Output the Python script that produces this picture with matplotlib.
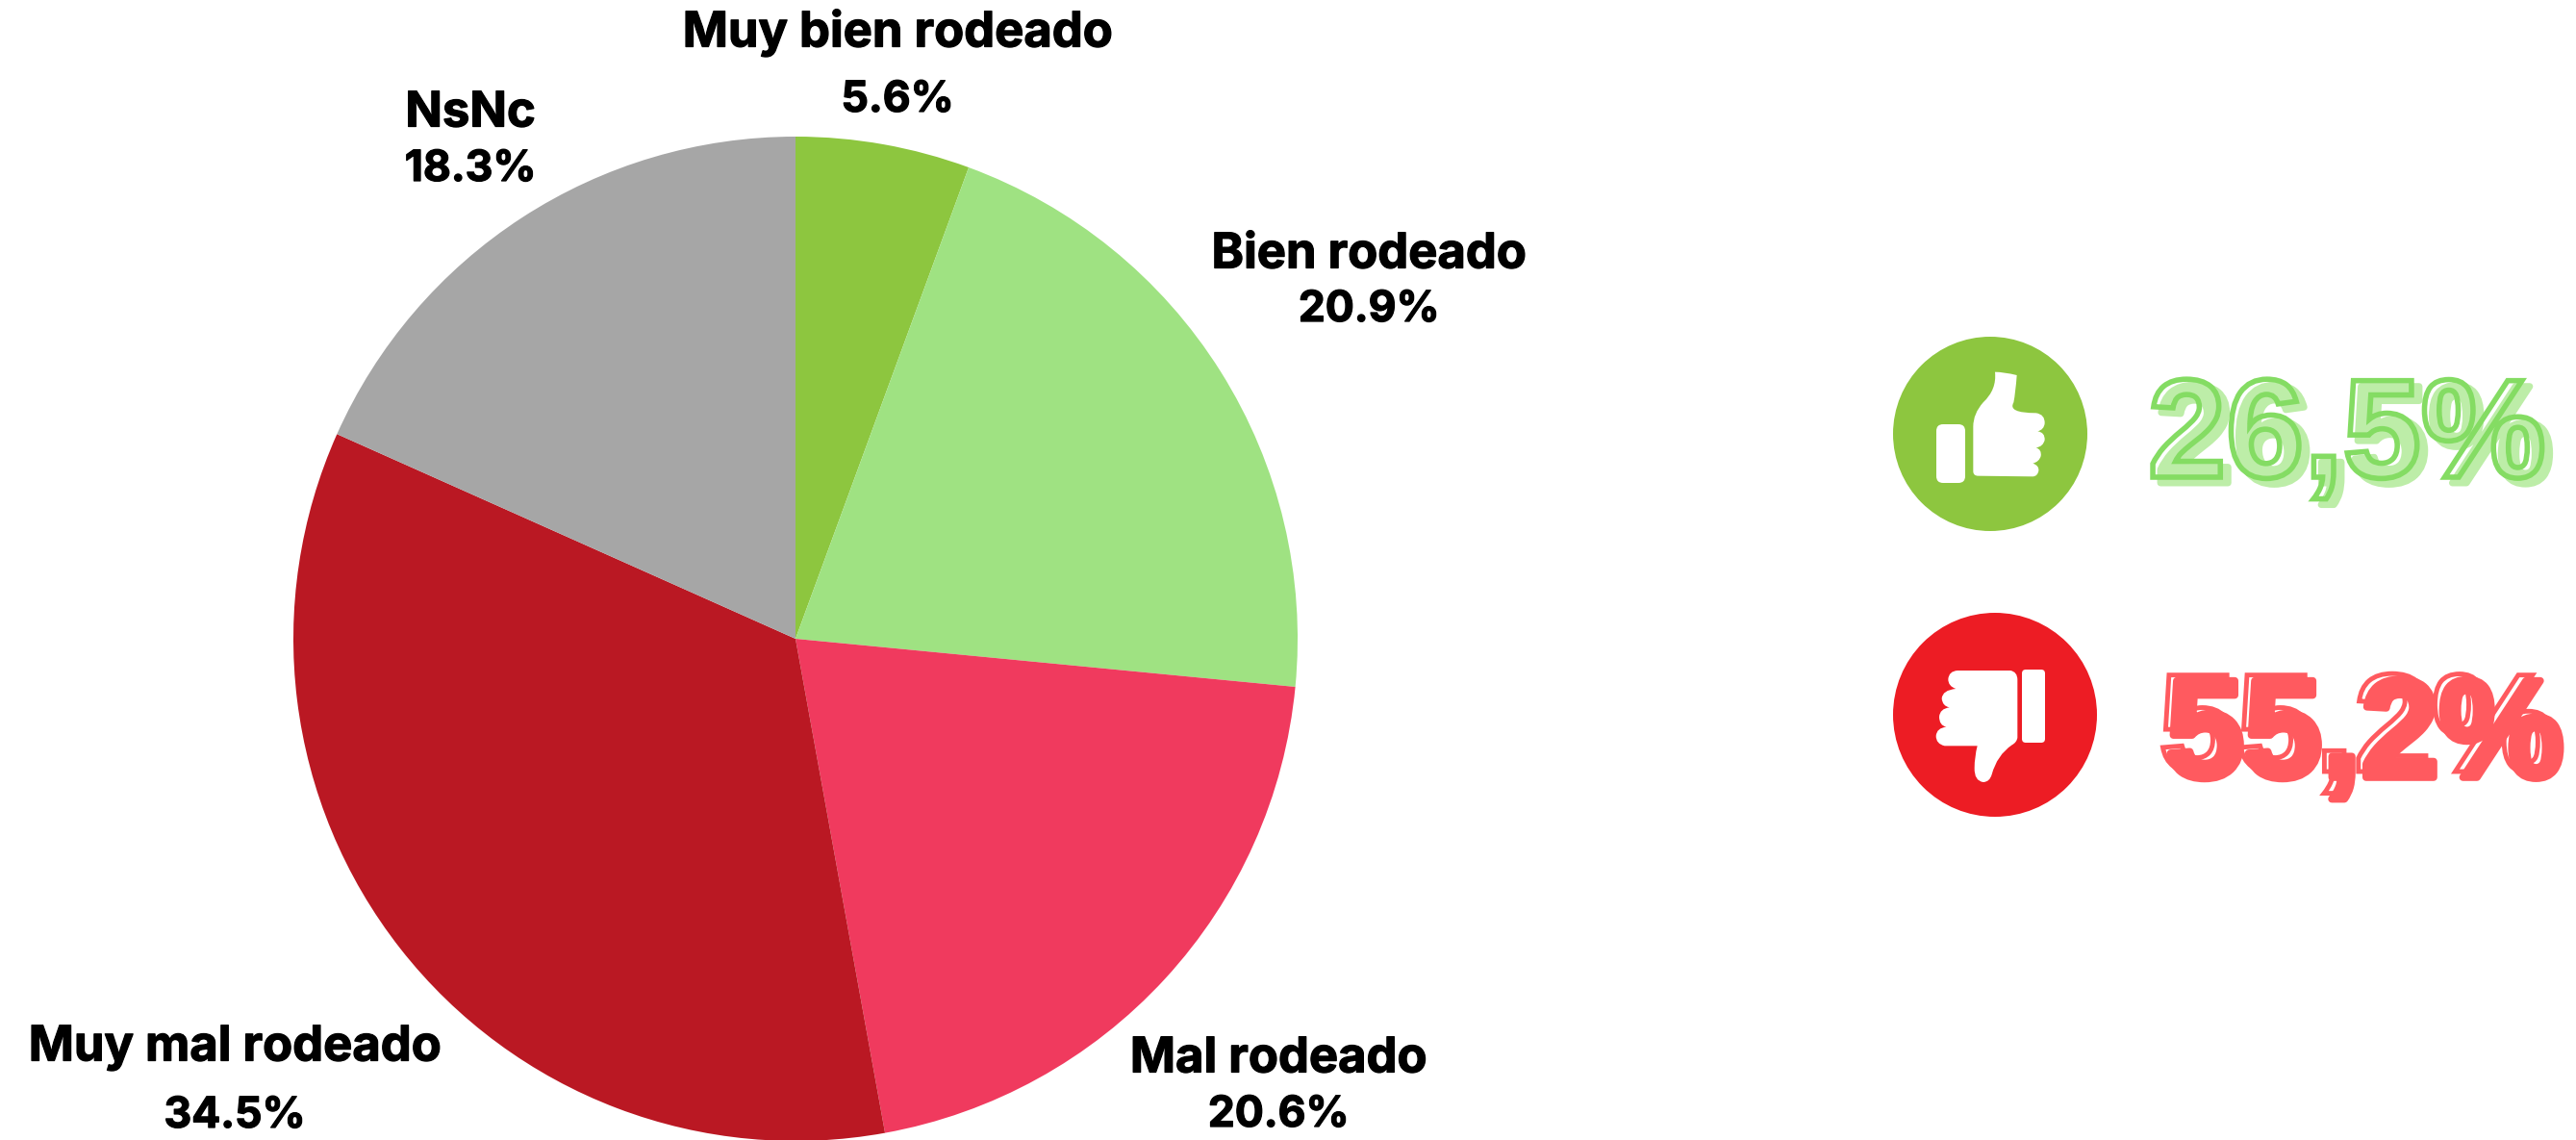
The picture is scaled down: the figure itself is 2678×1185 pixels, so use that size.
import matplotlib
matplotlib.use("Agg")
import matplotlib.pyplot as plt
from matplotlib.patches import Circle, PathPatch, FancyBboxPatch
from matplotlib.path import Path
import matplotlib.patheffects as pe

W, H = 2678, 1185
categories = ["Muy bien rodeado", "Bien rodeado", "Mal rodeado", "Muy mal rodeado", "NsNc"]
values = [5.6, 20.9, 20.6, 34.5, 18.3]
colors = ["#8DC63F", "#9FE282", "#F03A5E", "#BA1823", "#A6A6A6"]
good_total = "26,5%"
bad_total = "55,2%"

fig = plt.figure(figsize=(W/100, H/100), dpi=100, facecolor="white")

# pie
cx, cy, r = 827, 664, 522
axp = fig.add_axes([(cx-r)/W, 1-(cy+r)/H, 2*r/W, 2*r/H])
axp.pie(values, colors=colors, startangle=90, counterclock=False, radius=1,
        wedgeprops=dict(linewidth=0))
axp.set_xlim(-1, 1); axp.set_ylim(-1, 1); axp.axis("off")

# overlay in pixel coords
ax = fig.add_axes([0, 0, 1, 1])
ax.set_xlim(0, W); ax.set_ylim(H, 0); ax.axis("off"); ax.patch.set_alpha(0)

heavy = [pe.withStroke(linewidth=0.9, foreground="black")]
lab = dict(family="Inter", weight="bold", ha="center", va="center", color="black", path_effects=heavy)
def label(x, y1, y2, name, val):
    ax.text(x, y1, name, fontsize=36.5, **lab)
    ax.text(x, y2, f"{val}%", fontsize=32, **lab)
label(933, 34, 104, categories[0], values[0])
label(1423, 265, 322, categories[1], values[1])
label(1329, 1101, 1159, categories[2], values[2])
label(244, 1089, 1160, categories[3], values[3])
label(489, 118, 176, categories[4], values[4])

# icons
ax.add_patch(Circle((2069, 451), 101, fc="#8DC63F", ec="none"))
ax.add_patch(Circle((2074, 743), 106, fc="#ED1C24", ec="none"))

def rrect(x0, y0, x1, y1, rad):
    ax.add_patch(FancyBboxPatch((x0+rad, y0+rad), x1-x0-2*rad, y1-y0-2*rad,
                 boxstyle=f"round,pad={rad}", fc="white", ec="none"))

def z(pts, ox, oy):
    return [(ox+a/3, oy+b/3) for a, b in pts]
M, L, C = Path.MOVETO, Path.LINETO, Path.CURVE3
rrect(2013, 441, 2043, 502, 7)
up = [(M,(304,480)),(L,(304,340)),(C,(304,300)),(C,(335,265)),(C,(378,225)),(C,(372,170)),(C,(400,170)),
      (C,(440,180)),(C,(436,235)),(C,(430,265)),(C,(410,298)),(L,(500,298)),(C,(528,302)),(C,(527,330)),
      (C,(525,350)),(C,(505,355)),(C,(528,358)),(C,(527,382)),(C,(522,403)),(C,(500,406)),(C,(518,412)),
      (C,(515,432)),(C,(510,450)),(C,(490,455)),(C,(510,462)),(C,(508,478)),(C,(505,495)),(C,(490,496)),
      (L,(320,494)),(C,(304,494)),(C,(304,480))]
ax.add_patch(PathPatch(Path(z([p for _,p in up],1950,330),[c for c,_ in up]),fc="white",ec="none"))

rrect(2102, 696, 2126, 772, 4)
dn = [(M,(255,201)),(L,(420,201)),(C,(442,205)),(C,(442,230)),(L,(442,410)),(C,(440,425)),(C,(425,433)),
      (C,(378,465)),(C,(362,525)),(C,(355,549)),(C,(335,549)),(C,(307,545)),(C,(308,505)),(C,(308,470)),
      (C,(317,436)),(L,(215,436)),(C,(188,430)),(C,(188,405)),(C,(190,380)),(C,(220,377)),(C,(198,372)),
      (C,(198,345)),(C,(200,320)),(C,(230,316)),(C,(208,312)),(C,(206,288)),(C,(208,262)),(C,(250,258)),
      (C,(226,250)),(C,(226,228)),(C,(228,203)),(C,(255,201))]
ax.add_patch(PathPatch(Path(z([p for _,p in dn],1950,630),[c for c,_ in dn]),fc="white",ec="none"))

# big numbers: offset solid layer, then hollow outline on top
big = dict(family="Liberation Sans", weight="bold", fontsize=105, ha="left", va="baseline")
ax.text(2241, 502, good_total, color="#BDEDA8",
        path_effects=[pe.withStroke(linewidth=5, foreground="#BDEDA8")], **big)
ax.text(2233, 496, good_total, color="none",
        path_effects=[pe.PathPatchEffect(edgecolor="#84DC63", facecolor="none", linewidth=4)], **big)
ax.text(2252, 808, bad_total, color="#FF5A5F",
        path_effects=[pe.withStroke(linewidth=5.5, foreground="#FF5A5F")], **big)
ax.text(2244, 802, bad_total, color="none",
        path_effects=[pe.PathPatchEffect(edgecolor="#FF5A5F", facecolor="none", linewidth=3.5)], **big)

fig.savefig("out.png", dpi=100, facecolor="white")
